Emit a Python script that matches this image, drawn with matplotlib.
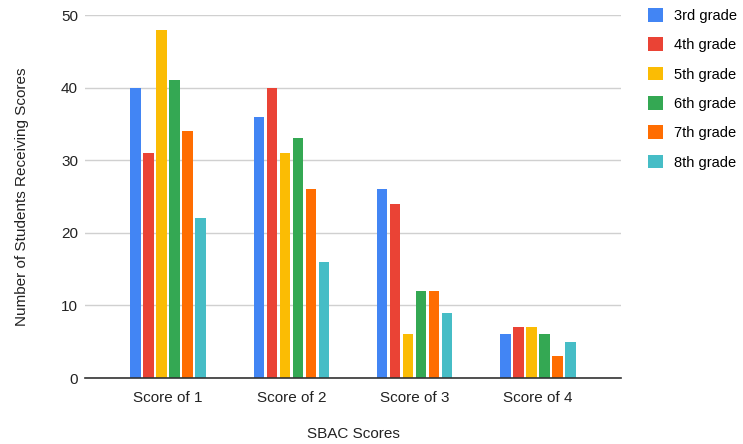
import numpy as np
import matplotlib
matplotlib.use('Agg')
import matplotlib.pyplot as plt

plt.rcParams['font.family'] = ['Liberation Sans', 'DejaVu Sans']

categories = ['Score of 1', 'Score of 2', 'Score of 3', 'Score of 4']
grades = ['3rd grade', '4th grade', '5th grade', '6th grade', '7th grade', '8th grade']
grade3 = [40, 36, 26, 6]
grade4 = [31, 40, 24, 7]
grade5 = [48, 31, 6, 7]
grade6 = [41, 33, 12, 6]
grade7 = [34, 26, 12, 3]
grade8 = [22, 16, 9, 5]
series = [grade3, grade4, grade5, grade6, grade7, grade8]
colors = ['#4285F4', '#EA4335', '#FBBC04', '#34A853', '#FF6D01', '#46BDC6']

fig = plt.figure(figsize=(7.43, 4.44), dpi=100)
ax = fig.add_axes([0.1144, 0.1486, 0.7214, 0.8176])

x = np.arange(len(categories))
unit = 123.3  # px per category
pitch = 13 / unit
width = 10.3 / unit
for i, (vals, c, lab) in enumerate(zip(series, colors, grades)):
    ax.bar(x + (i - 2.5) * pitch, vals, width=width, color=c, label=lab, zorder=3)

ax.set_xlim(-0.673, 3.673)
ax.set_ylim(0, 50)
ax.set_yticks([0, 10, 20, 30, 40, 50])
ax.set_xticks(x)
ax.set_xticklabels(categories)
ax.tick_params(axis='both', length=0, labelsize=11, colors='#222222')
ax.tick_params(axis='y', pad=5)
ax.tick_params(axis='x', pad=9)
ax.grid(axis='y', color='#d0d0d0', linewidth=1, zorder=0)
for s in ['top', 'right', 'left']:
    ax.spines[s].set_visible(False)
ax.spines['bottom'].set_color('#333333')
ax.spines['bottom'].set_linewidth(1.2)
ax.spines['bottom'].set_zorder(4)

ax.set_xlabel('SBAC Scores', fontsize=11, color='#222222', labelpad=16)
ax.set_ylabel('Number of Students Receiving Scores', fontsize=11, color='#222222', labelpad=23)

ax.legend(loc='upper left', bbox_to_anchor=(1.025, 1.055), frameon=False, fontsize=10.5,
          handlelength=1.05, handleheight=1.05, handletextpad=0.75, labelspacing=1.0)

fig.savefig('out.png', dpi=100)
